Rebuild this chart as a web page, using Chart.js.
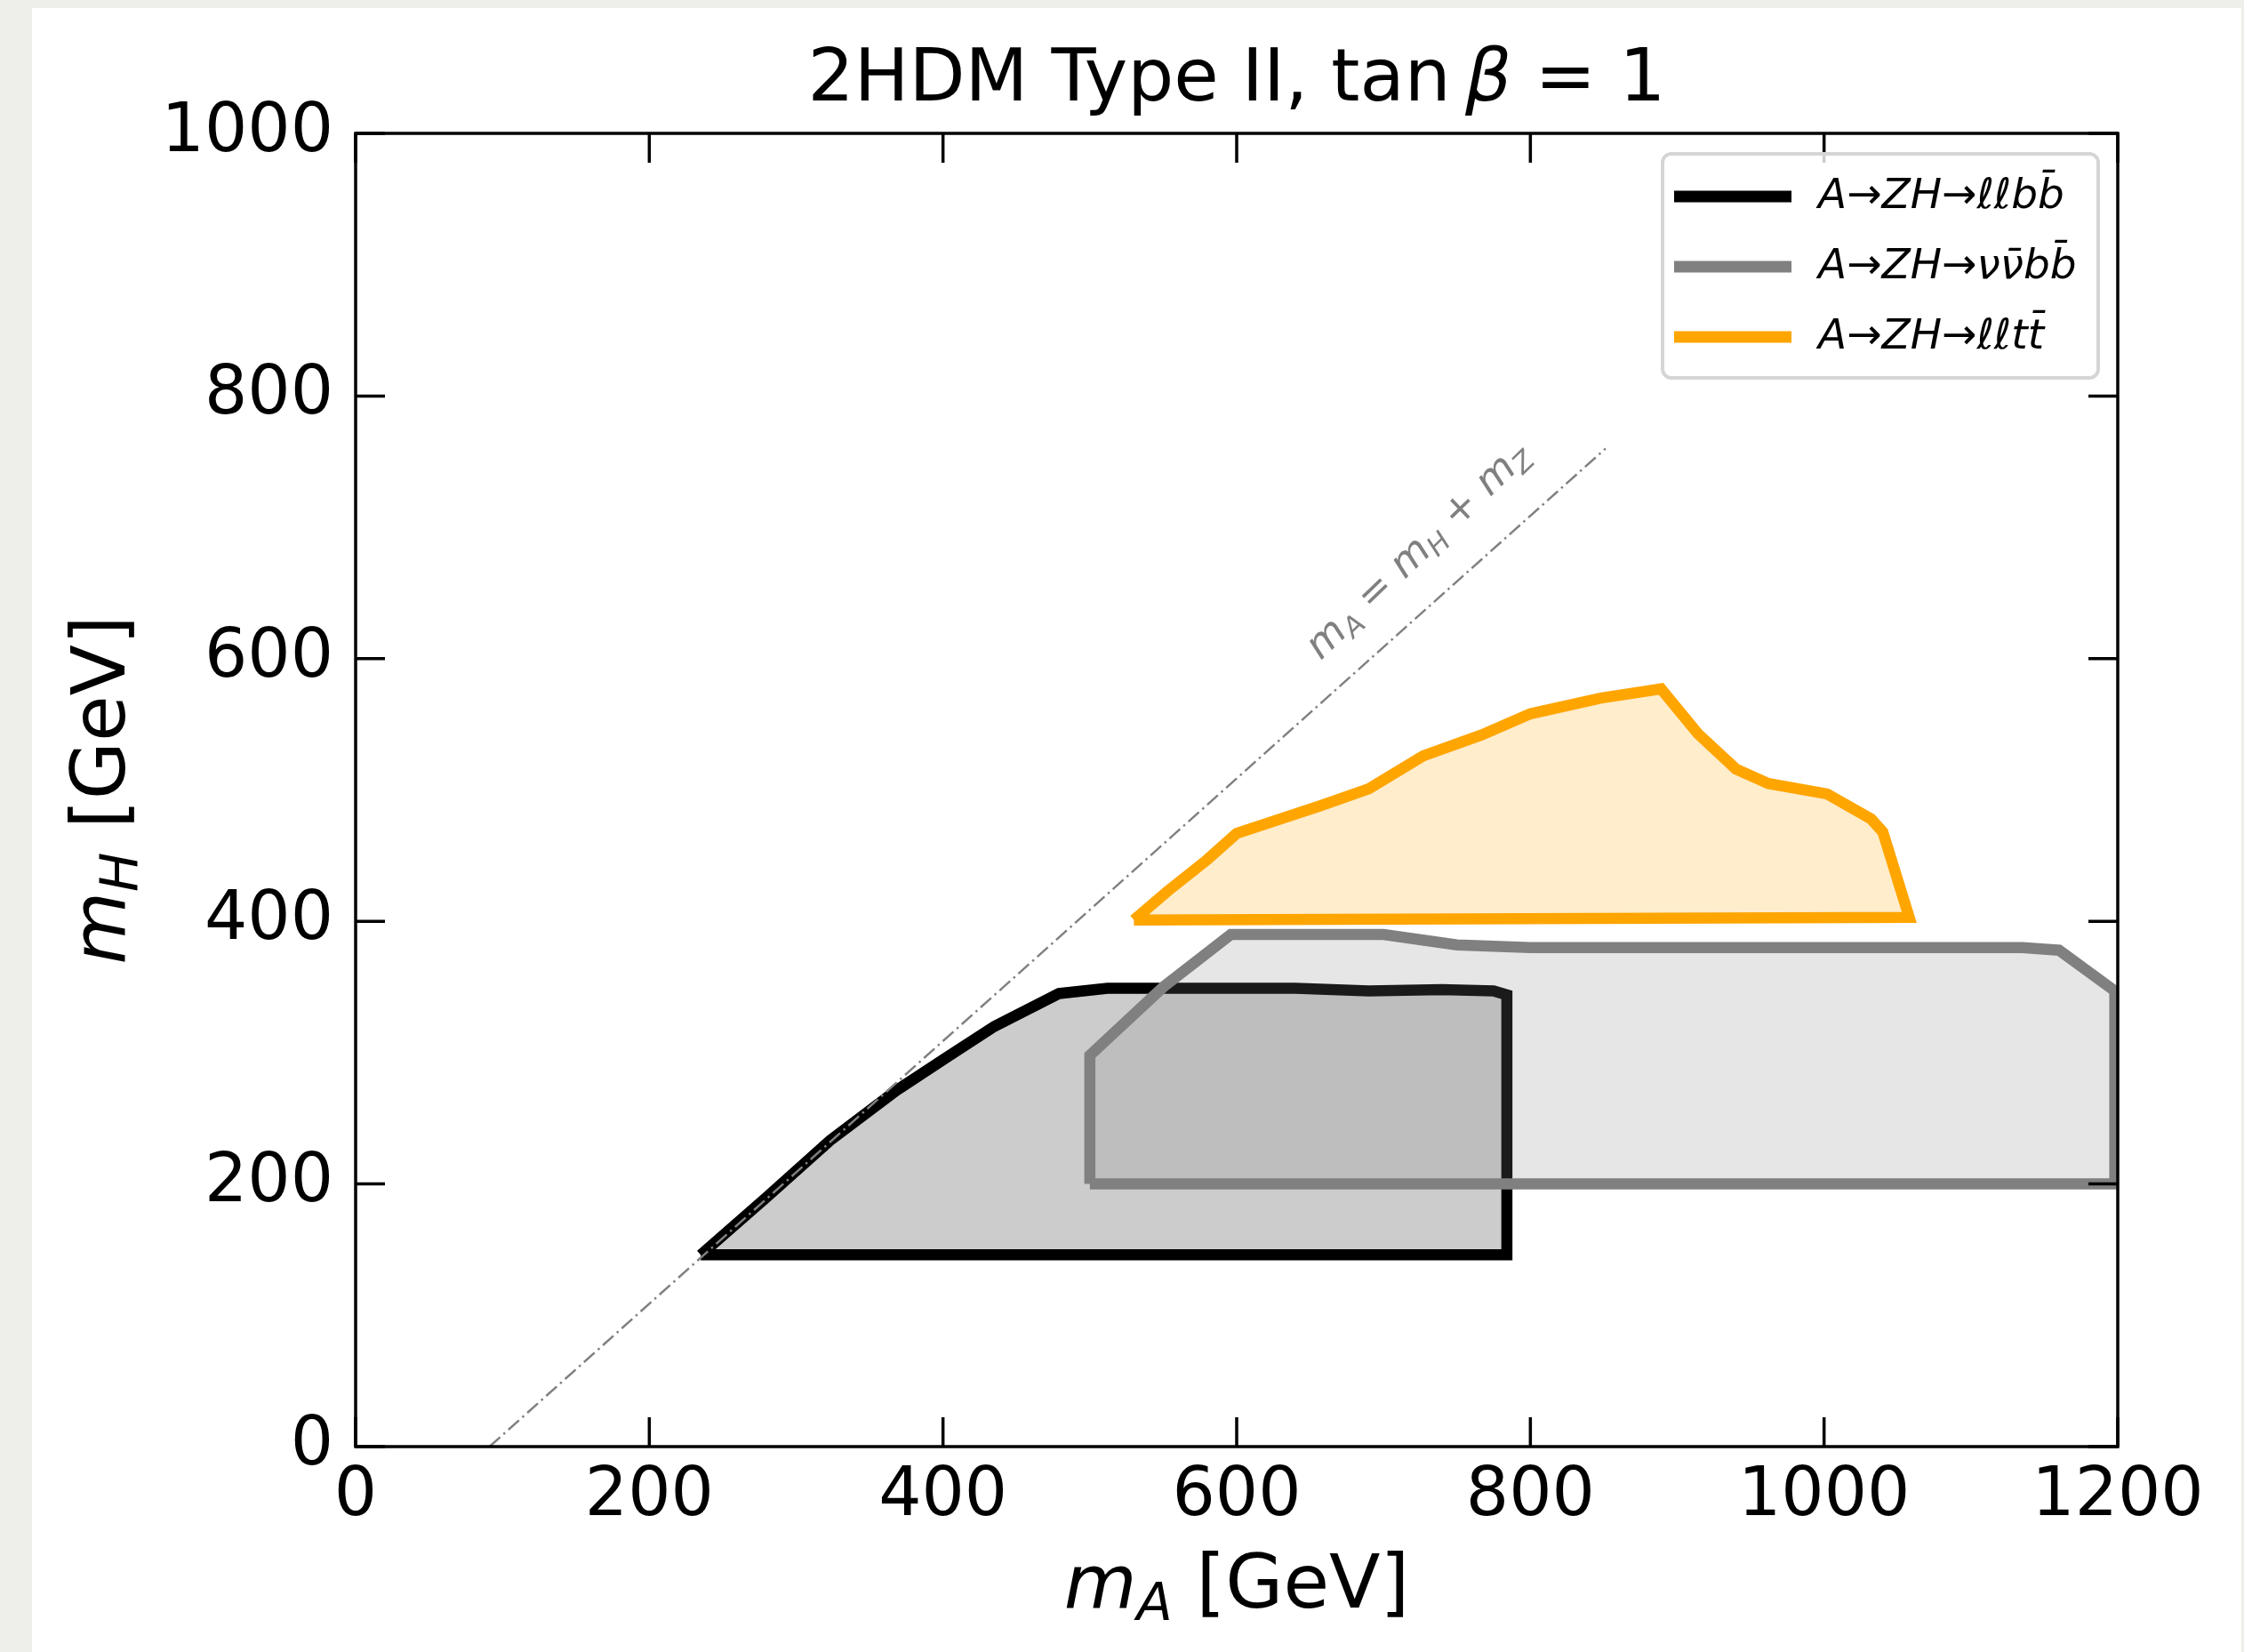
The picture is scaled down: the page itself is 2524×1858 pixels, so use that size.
<!DOCTYPE html>
<html>
<head>
<meta charset="utf-8">
<title>2HDM Type II exclusion regions</title>
<script src="https://cdn.jsdelivr.net/npm/chart.js@4.4.1/dist/chart.umd.min.js"></script>
<style>
  html, body { margin: 0; padding: 0; }
  body { width: 2524px; height: 1858px; background: #eeeeea; position: relative; overflow: hidden; }
  .sheet { position: absolute; left: 36px; top: 9px; width: 2485px; height: 1849px; background: #fff; }
  canvas { position: absolute; left: 0; top: 0; }
</style>
</head>
<body>
<div class="sheet"></div>
<canvas id="regionChart" width="2524" height="1858"></canvas>
<script>
// --- data (GeV) ---
const xTicks = [0, 200, 400, 600, 800, 1000, 1200];
const yTicks = [0, 200, 400, 600, 800, 1000];

const mZ = 91.19;
const diagA = [mZ, 851.19];
const diagH = [0, 760];

// A -> ZH -> llbb
const llbbA = [235, 280, 323, 368, 402, 435, 479, 512, 600, 640, 690, 740, 775, 784, 784, 235];
const llbbH = [146, 190, 233, 271, 296, 320, 345, 349, 349, 349, 347, 348, 347, 344, 146, 146];

// A -> ZH -> vvbb
const vvbbA = [500, 500, 550, 596, 700, 750, 800, 1135, 1160, 1198, 1198, 500];
const vvbbH = [200, 298, 350, 390, 390, 382, 380, 380, 378, 347, 200, 200];

// A -> ZH -> lltt
const llttA = [530, 553, 580, 600, 657, 690, 727, 767, 800, 848, 889, 914, 940, 962, 1002, 1032, 1040, 1058, 530];
const llttH = [401, 423, 447, 467, 488, 501, 526, 542, 558, 570, 577, 543, 516, 505, 497, 478, 468, 403, 401];

const FONT = "'DejaVu Sans'";

function pts(xs, ys) {
    return xs.map((x, i) => ({ x: x, y: ys[i] }));
}

// draws a run of text pieces: [text, size, italic, dy]
function drawPieces(ctx, pieces, x, y, align) {
    let w = 0;
    pieces.forEach(p => {
        ctx.font = (p[2] ? 'italic ' : '') + p[1] + 'px ' + FONT;
        w += ctx.measureText(p[0]).width;
    });
    let cx = align === 'center' ? x - w / 2 : x;
    ctx.textAlign = 'left';
    ctx.textBaseline = 'alphabetic';
    pieces.forEach(p => {
        ctx.font = (p[2] ? 'italic ' : '') + p[1] + 'px ' + FONT;
        ctx.fillText(p[0], cx, y + (p[3] || 0));
        cx += ctx.measureText(p[0]).width;
    });
}

// frame + inward ticks on all four sides, like the matplotlib original
const frameTicks = {
    id: 'frameTicks',
    afterDatasetsDraw(chart) {
        const { ctx, chartArea: a, scales } = chart;
        const len = 33;
        ctx.save();
        ctx.strokeStyle = '#000';
        ctx.lineWidth = 3.5;
        ctx.beginPath();
        scales.x.ticks.forEach(t => {
            const px = scales.x.getPixelForValue(t.value);
            ctx.moveTo(px, a.bottom); ctx.lineTo(px, a.bottom - len);
            ctx.moveTo(px, a.top); ctx.lineTo(px, a.top + len);
        });
        scales.y.ticks.forEach(t => {
            const py = scales.y.getPixelForValue(t.value);
            ctx.moveTo(a.left, py); ctx.lineTo(a.left + len, py);
            ctx.moveTo(a.right, py); ctx.lineTo(a.right - len, py);
        });
        ctx.stroke();
        ctx.strokeRect(a.left, a.top, a.right - a.left, a.bottom - a.top);
        ctx.restore();
    }
};

// title, axis titles, diagonal annotation and the in-plot legend
const annotations = {
    id: 'annotations',
    afterDraw(chart) {
        const { ctx, chartArea: a, scales } = chart;
        const midX = (a.left + a.right) / 2;
        const midY = (a.top + a.bottom) / 2;
        ctx.save();
        ctx.fillStyle = '#000';

        drawPieces(ctx, [['2HDM Type II, tan\u2009', 82], ['\u03b2', 82, true], [' = 1', 82]], midX, 113, 'center');
        drawPieces(ctx, [['m', 84, true], ['A', 59, true, 14], [' [GeV]', 84]], midX, 1808, 'center');

        ctx.save();
        ctx.translate(140, midY);
        ctx.rotate(-Math.PI / 2);
        drawPieces(ctx, [['m', 84, true], ['H', 59, true, 14], [' [GeV]', 84]], 0, 0, 'center');
        ctx.restore();

        // m_A = m_H + m_Z label along the dash-dot line
        ctx.save();
        ctx.fillStyle = '#808080';
        ctx.translate(scales.x.getPixelForValue(729), scales.y.getPixelForValue(676));
        ctx.rotate(-44 * Math.PI / 180);
        drawPieces(ctx, [['m', 45, true], ['A', 31, true, 8], [' = ', 45], ['m', 45, true], ['H', 31, true, 8],
                         [' + ', 45], ['m', 45, true], ['Z', 31, true, 8]], 0, 0, 'center');
        ctx.restore();

        // legend box
        const bw = 490, bh = 252;
        const bx = a.right - 22 - bw, by = a.top + 23;
        ctx.beginPath();
        ctx.roundRect(bx, by, bw, bh, 10);
        ctx.fillStyle = 'rgba(255,255,255,0.8)';
        ctx.fill();
        ctx.strokeStyle = '#d5d5d5';
        ctx.lineWidth = 4;
        ctx.stroke();

        const items = chart.data.datasets.filter(d => d.inLegend);
        items.forEach((d, i) => {
            const ry = by + 48 + i * 79;
            ctx.strokeStyle = d.borderColor;
            ctx.lineWidth = 13;
            ctx.lineCap = 'butt';
            ctx.beginPath();
            ctx.moveTo(bx + 13, ry);
            ctx.lineTo(bx + 145, ry);
            ctx.stroke();
            ctx.fillStyle = '#000';
            drawPieces(ctx, [[d.label, 47, true]], bx + 175, ry + 13, 'left');
        });
        ctx.restore();
    }
};

const tickFont = { family: FONT, size: 76 };
const plainNumber = v => String(v);

const ctx = document.getElementById('regionChart');
new Chart(ctx, {
    type: 'scatter',
    data: {
        datasets: [{
            label: 'A\u2192ZH\u2192\u2113\u2113bb\u0304',
            data: pts(llbbA, llbbH),
            borderColor: '#000000',
            backgroundColor: 'rgba(0, 0, 0, 0.2)',
            fill: 'shape',
            inLegend: true,
            order: 3
        }, {
            label: 'A\u2192ZH\u2192\u03bd\u03bd\u0304bb\u0304',
            data: pts(vvbbA, vvbbH),
            borderColor: '#808080',
            backgroundColor: 'rgba(128, 128, 128, 0.2)',
            fill: 'shape',
            inLegend: true,
            order: 2
        }, {
            label: 'A\u2192ZH\u2192\u2113\u2113tt\u0304',
            data: pts(llttA, llttH),
            borderColor: '#ffa500',
            backgroundColor: 'rgba(255, 165, 0, 0.2)',
            fill: 'shape',
            inLegend: true,
            order: 1
        }, {
            label: 'mA = mH + mZ',
            data: pts(diagA, diagH),
            borderColor: '#808080',
            borderWidth: 2.5,
            borderDash: [16, 5, 2.5, 5],
            fill: false,
            inLegend: false,
            order: 0
        }]
    },
    options: {
        responsive: false,
        animation: false,
        events: [],
        showLine: true,
        elements: {
            point: { radius: 0 },
            line: { borderWidth: 12.5, tension: 0, borderJoinStyle: 'miter' }
        },
        layout: { padding: { left: 0, top: 150, right: 142, bottom: 0 } },
        plugins: {
            legend: { display: false },
            title: { display: false },
            tooltip: { enabled: false }
        },
        scales: {
            x: {
                type: 'linear',
                min: xTicks[0],
                max: xTicks[xTicks.length - 1],
                afterFit: s => { s.height = 231; },
                afterBuildTicks: s => { s.ticks = xTicks.map(v => ({ value: v })); },
                ticks: { color: '#000', font: tickFont, padding: 12, maxRotation: 0, autoSkip: false, callback: plainNumber },
                grid: { display: false, drawTicks: false },
                border: { display: false }
            },
            y: {
                type: 'linear',
                min: yTicks[0],
                max: yTicks[yTicks.length - 1],
                afterFit: s => { s.width = 400; },
                afterBuildTicks: s => { s.ticks = yTicks.map(v => ({ value: v })); },
                ticks: { color: '#000', font: tickFont, padding: 25, autoSkip: false, callback: plainNumber },
                grid: { display: false, drawTicks: false },
                border: { display: false }
            }
        }
    },
    plugins: [frameTicks, annotations]
});
</script>
</body>
</html>
